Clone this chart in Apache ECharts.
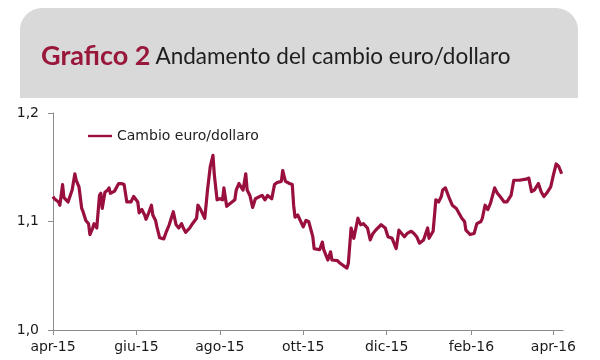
<!DOCTYPE html>
<html>
<head>
<meta charset="utf-8">
<script src="https://cdn.jsdelivr.net/npm/echarts@6/dist/echarts.min.js"></script>
<style>
html,body{margin:0;padding:0;background:#fff;}
#chart{width:600px;height:360px;}
</style>
</head>
<body>
<div id="chart"></div>
<script>
// ---- data ----
const seriesName = 'Cambio euro/dollaro';
const titleNumber = 'Grafico 2';
const titleText = 'Andamento del cambio euro/dollaro';
const monthNames = ['gen','feb','mar','apr','mag','giu','lug','ago','set','ott','nov','dic'];
const tickDates = ['2015-04-01','2015-06-01','2015-08-01','2015-10-01','2015-12-01','2016-02-01','2016-04-01'];
const axisStart = '2015-04-01';
const axisEnd = '2016-04-08';
const yTicks = [1.0, 1.1, 1.2];
const dates = [
'2015-04-01','2015-04-02','2015-04-05','2015-04-06','2015-04-08','2015-04-09','2015-04-12','2015-04-13','2015-04-15','2015-04-17',
'2015-04-18','2015-04-20','2015-04-22','2015-04-23','2015-04-25','2015-04-27','2015-04-28','2015-04-30','2015-05-01','2015-05-03',
'2015-05-05','2015-05-06','2015-05-07','2015-05-09','2015-05-11','2015-05-12','2015-05-13','2015-05-16','2015-05-19','2015-05-21',
'2015-05-23','2015-05-25','2015-05-28','2015-05-30','2015-06-02','2015-06-03','2015-06-05','2015-06-07','2015-06-08','2015-06-10',
'2015-06-12','2015-06-13','2015-06-15','2015-06-16','2015-06-18','2015-06-21','2015-06-23','2015-06-25','2015-06-28','2015-06-30',
'2015-07-02','2015-07-04','2015-07-05','2015-07-07','2015-07-10','2015-07-12','2015-07-15','2015-07-16','2015-07-18','2015-07-21',
'2015-07-23','2015-07-25','2015-07-27','2015-07-28','2015-07-30','2015-08-01','2015-08-03','2015-08-04','2015-08-06','2015-08-09',
'2015-08-12','2015-08-13','2015-08-15','2015-08-18','2015-08-20','2015-08-21','2015-08-23','2015-08-25','2015-08-27','2015-08-30',
'2015-09-01','2015-09-03','2015-09-05','2015-09-08','2015-09-10','2015-09-12','2015-09-15','2015-09-16','2015-09-18','2015-09-21',
'2015-09-23','2015-09-24','2015-09-25','2015-09-27','2015-09-28','2015-10-01','2015-10-03','2015-10-05','2015-10-08','2015-10-09',
'2015-10-13','2015-10-15','2015-10-16','2015-10-19','2015-10-21','2015-10-22','2015-10-26','2015-10-28','2015-11-02','2015-11-03',
'2015-11-05','2015-11-07','2015-11-08','2015-11-10','2015-11-12','2015-11-14','2015-11-17','2015-11-19','2015-11-21','2015-11-23',
'2015-11-27','2015-11-30','2015-12-02','2015-12-05','2015-12-08','2015-12-10','2015-12-11','2015-12-14','2015-12-16','2015-12-19',
'2015-12-21','2015-12-23','2015-12-25','2015-12-28','2015-12-31','2016-01-01','2016-01-04','2016-01-06','2016-01-08','2016-01-10',
'2016-01-11','2016-01-13','2016-01-16','2016-01-18','2016-01-21','2016-01-25','2016-01-27','2016-01-28','2016-01-31','2016-02-03',
'2016-02-05','2016-02-08','2016-02-09','2016-02-11','2016-02-13','2016-02-15','2016-02-18','2016-02-20','2016-02-22','2016-02-25',
'2016-02-27','2016-03-01','2016-03-03','2016-03-07','2016-03-12','2016-03-14','2016-03-16','2016-03-18','2016-03-21','2016-03-23',
'2016-03-25','2016-03-27','2016-03-30','2016-04-01','2016-04-03','2016-04-05','2016-04-07'
];
const values = [
1.123,1.121,1.118,1.115,1.134,1.122,1.118,1.117,1.129,1.144,
1.138,1.132,1.112,1.109,1.101,1.098,1.088,1.094,1.098,1.094,
1.124,1.126,1.112,1.127,1.129,1.131,1.126,1.128,1.135,1.135,
1.134,1.118,1.118,1.123,1.118,1.108,1.111,1.106,1.102,1.108,
1.115,1.106,1.101,1.095,1.085,1.084,1.091,1.097,1.109,1.097,
1.094,1.098,1.095,1.090,1.094,1.098,1.103,1.115,1.111,1.103,
1.129,1.1505,1.161,1.143,1.120,1.121,1.120,1.131,1.114,1.117,
1.120,1.129,1.135,1.129,1.144,1.129,1.124,1.113,1.121,1.123,
1.124,1.120,1.124,1.121,1.134,1.136,1.137,1.147,1.137,1.135,
1.134,1.115,1.104,1.106,1.106,1.095,1.101,1.100,1.086,1.075,
1.074,1.081,1.074,1.0645,1.072,1.0645,1.064,1.0615,1.057,1.0615,
1.094,1.0845,1.086,1.103,1.097,1.098,1.094,1.083,1.089,1.092,
1.097,1.094,1.086,1.0845,1.075,1.092,1.091,1.086,1.089,1.091,
1.089,1.086,1.080,1.083,1.094,1.0845,1.091,1.120,1.118,1.123,
1.129,1.131,1.121,1.115,1.112,1.103,1.100,1.092,1.088,1.089,
1.098,1.100,1.103,1.115,1.111,1.117,1.131,1.126,1.123,1.118,
1.118,1.124,1.138,1.138,1.139,1.140,1.1275,1.129,1.135,1.1275,
1.123,1.126,1.132,1.143,1.153,1.1505,1.144
];

function toTime(s){ const p = s.split('-').map(Number); return Date.UTC(p[0], p[1]-1, p[2]); }
const seriesData = dates.map((d,i)=>[toTime(d), values[i]]);
const tickTimes = tickDates.map(toTime);

const chart = echarts.init(document.getElementById('chart'), null, {renderer:'canvas'});
const labelFont = 'DejaVu Sans';
chart.setOption({
  animation:false,
  backgroundColor:'#ffffff',
  graphic:[{
    type:'rect', left:20, top:8, z:-10,
    shape:{width:558, height:90, r:[22,22,0,0]},
    style:{fill:'#d9d9d9'}
  }],
  title:{
    text:'{a|' + titleNumber + '} {b|' + titleText + '}',
    left:36, top:38,
    textStyle:{
      fontWeight:'normal',
      rich:{
        a:{fontFamily:'Lato', fontWeight:'bold', fontSize:27, color:'#98173a'},
        b:{fontFamily:'Lato', fontWeight:'normal', fontSize:22.5, color:'#1e1e1e'}
      }
    }
  },
  legend:{
    left:83, top:124,
    icon:'path://M0,0 L30,0 L30,3 L0,3 Z',
    itemWidth:24, itemHeight:3, itemGap:4,
    textStyle:{fontFamily:labelFont, fontSize:14, color:'#222'},
    data:[seriesName]
  },
  grid:{left:53, right:37, top:113, bottom:30, containLabel:false},
  xAxis:{
    type:'value',
    min:toTime(axisStart), max:toTime(axisEnd),
    axisLine:{lineStyle:{color:'#8c8c8c', width:1}},
    axisTick:{show:true, length:5, customValues:tickTimes, lineStyle:{color:'#8c8c8c'}},
    axisLabel:{
      customValues:tickTimes,
      margin:10,
      fontFamily:labelFont, fontSize:14, color:'#1a1a1a',
      formatter:function(v){ const d=new Date(v); return monthNames[d.getUTCMonth()] + '-' + String(d.getUTCFullYear()).slice(2); }
    },
    splitLine:{show:false}
  },
  yAxis:{
    type:'value', min:yTicks[0], max:yTicks[yTicks.length-1], interval:0.1,
    axisLine:{show:true, lineStyle:{color:'#8c8c8c', width:1}},
    axisTick:{show:true, length:5, lineStyle:{color:'#8c8c8c'}},
    axisLabel:{
      margin:14, fontFamily:labelFont, fontSize:14, color:'#1a1a1a',
      formatter:function(v){ return v.toFixed(1).replace('.', ','); }
    },
    splitLine:{show:false}
  },
  series:[{
    name:seriesName, type:'line', data:seriesData,
    symbol:'none', smooth:false,
    lineStyle:{color:'#990f3d', width:3.2, join:'round'},
    itemStyle:{color:'#990f3d'}
  }]
});
</script>
</body>
</html>
